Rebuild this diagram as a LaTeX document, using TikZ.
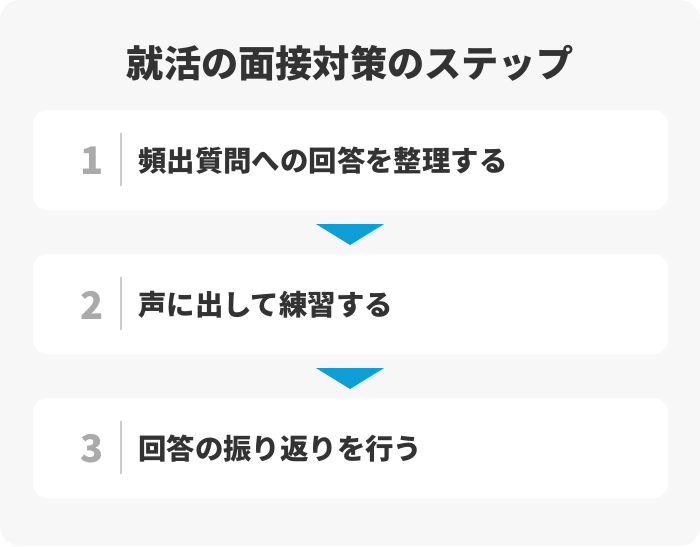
\documentclass[tikz,border=0pt]{standalone}
\usepackage{fontspec}
\setmainfont{Noto Sans CJK JP}
\definecolor{bggray}{HTML}{F7F7F7}
\definecolor{txt}{HTML}{333333}
\definecolor{numgray}{HTML}{AAAAAA}
\definecolor{sepgray}{HTML}{CCCCCC}
\definecolor{arrowblue}{HTML}{0E9FD6}
\tikzset{
  stepbox/.style={fill=white, rounded corners=14pt},
  steptext/.style={anchor=west, inner sep=0pt, text=txt, font=\fontsize{28.4pt}{30pt}\selectfont\bfseries},
  stepnum/.style={anchor=center, inner sep=0pt, text=numgray, font=\fontsize{38pt}{40pt}\selectfont\bfseries},
  sepline/.style={draw=sepgray, line width=1.5pt},
  downtri/.style={fill=arrowblue},
}
\begin{document}
\begin{tikzpicture}[x=1pt,y=-1pt]
\useasboundingbox (0,0) rectangle (700,546);
\fill[bggray, rounded corners=20pt] (0,0) rectangle (700,546);
\node[inner sep=0pt, text=txt, font=\fontsize{37.2pt}{40pt}\selectfont\bfseries] (title) at (350,63) {就活の面接対策のステップ};

\foreach \i/\y/\t in {1/110/頻出質問への回答を整理する, 2/254/声に出して練習する, 3/398/回答の振り返りを行う}{
  \fill[stepbox] (33,\y) rectangle (668,\y+100);
  \node[stepnum] (n\i) at (92,\y+51) {\i};
  \draw[sepline] (121,\y+23) -- (121,\y+76);
  \node[steptext] (t\i) at (138,\y+51) {\t};
}
\fill[downtri] (316,224) -- (384,224) -- (350,245) -- cycle;
\fill[downtri] (316,368) -- (384,368) -- (350,389) -- cycle;
\end{tikzpicture}
\end{document}
